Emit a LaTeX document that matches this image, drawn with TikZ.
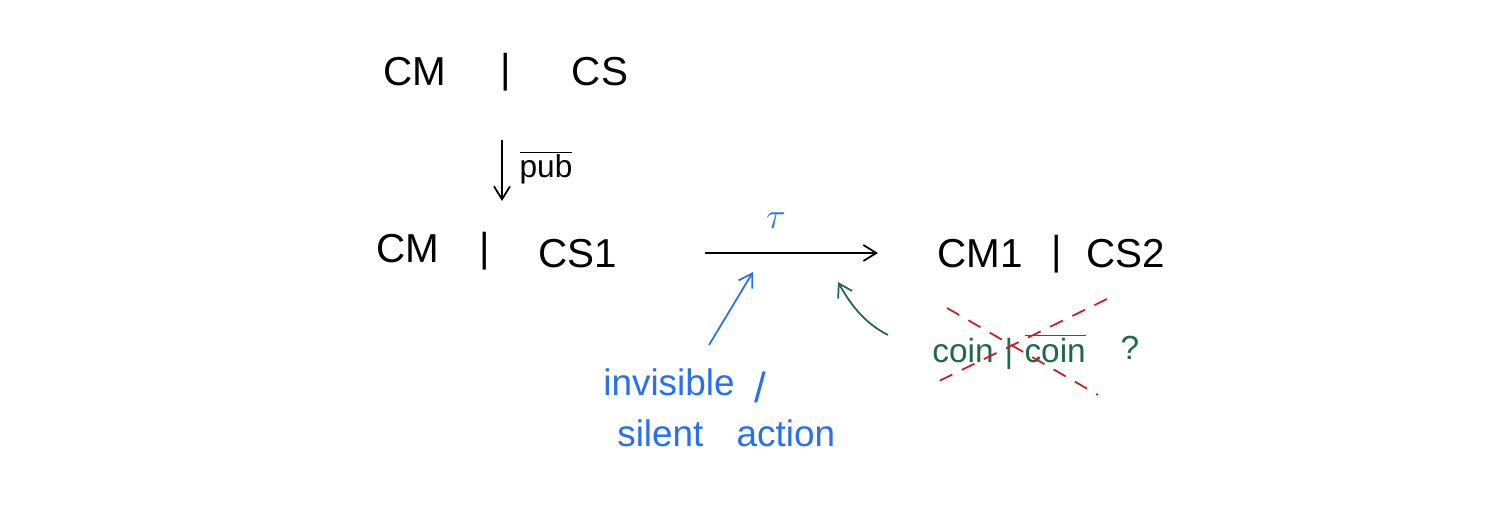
\documentclass[tikz,border=0pt]{standalone}
\usepackage{fontspec}
\setmainfont{Liberation Sans}
\usetikzlibrary{arrows.meta}
\definecolor{inkblue}{RGB}{40,112,238}
\definecolor{inkgreen}{RGB}{32,104,72}
\definecolor{inkred}{RGB}{200,30,30}
\tikzset{
  term/.style={inner sep=0pt, font=\fontsize{23}{27}\selectfont},
  note/.style={inner sep=0pt, text=inkblue, font=\fontsize{21}{25}\selectfont},
  qnote/.style={inner sep=0pt, text=inkgreen, font=\fontsize{19}{23}\selectfont},
  flow/.style={-{Straight Barb[length=2.6mm, width=3.2mm]}, line width=1pt},
  blueflow/.style={flow, draw=inkblue},
  greenflow/.style={flow, draw=inkgreen},
  strike/.style={draw=inkred, dashed, dash pattern=on 8pt off 6pt, line width=1pt},
}
\begin{document}
\begin{tikzpicture}[x=0.02cm, y=-0.02cm]
    \useasboundingbox (0,0) rectangle (1494,516);
    % top state
    \node[term] (cmtop) at (415,72) {CM};
    \node[term] (bartop) at (506,72) {|};
    \node[term] (cstop) at (600,72) {CS};
    % middle state
    \node[term] (cmmid) at (408,249) {CM};
    \node[term] (barmid) at (485,251) {|};
    \node[term] (csmid) at (578,254) {CS1};
    % right state
    \node[term] (cmright) at (980,254) {CM1};
    \node[term] (barright) at (1057,254) {|};
    \node[term] (csright) at (1126,254) {CS2};
    % pub step
    \coordinate (pubtop) at (502,140);
    \coordinate (pubend) at (502,201);
    \draw[flow] (pubtop) -- (pubend);
    \node[term, font=\fontsize{18}{21}\selectfont] (pub) at (546,168) {$\overline{\hbox{pub}}$};
    % tau step
    \coordinate (taustart) at (705,253);
    \coordinate (tauend) at (878,253);
    \draw[flow] (taustart) -- (tauend);
    \node[note, font=\fontsize{22}{26}\selectfont] (tau) at (776,221) {$\tau$};
    % invisible action note
    \node[note, anchor=west] (invis) at (603,382) {invisible};
    \node[note, font=\fontsize{24}{28}\selectfont] (slash) at (760,387) {/};
    \node[note, anchor=west] (silent) at (617,433) {silent\hspace{0.9em}action};
    \coordinate (bluetip) at (753,272);
    \draw[blueflow] (709,345) -- (bluetip);
    % crossed-out sync
    \node[qnote, anchor=west] (coin) at (932,352) {coin\,\,|\,\,$\overline{\hbox{coin}}$};
    \node[qnote] (ask) at (1130,348) {?};
    \coordinate (greentip) at (838,282);
    \draw[greenflow] (888,335) .. controls (862,322) and (848,300) .. (greentip);
    \coordinate (xa) at (947,308);
    \coordinate (xb) at (1098,395);
    \coordinate (xc) at (1107,299);
    \coordinate (xd) at (935,383);
    \draw[strike] (xa) -- (xb);
    \draw[strike] (xc) -- (xd);
  \end{tikzpicture}
\end{document}
